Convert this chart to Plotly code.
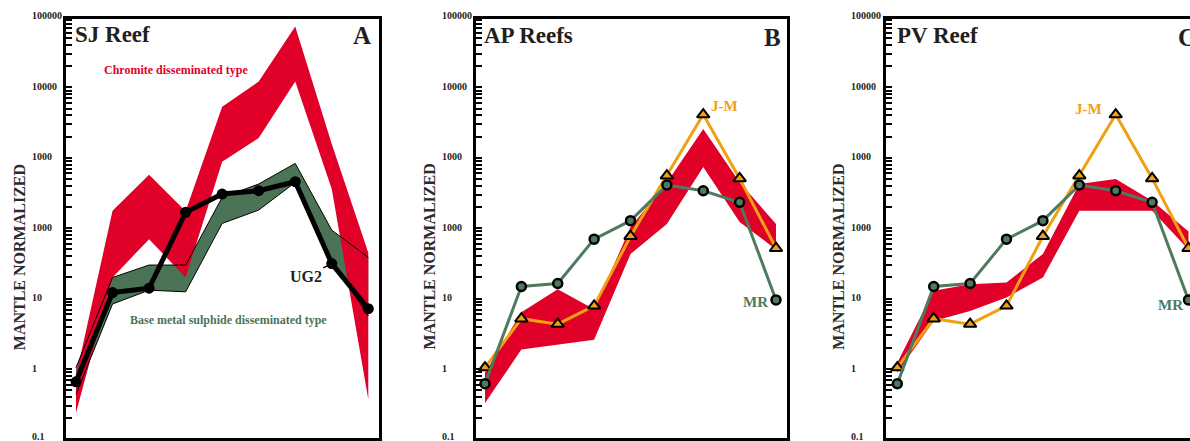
import math
import plotly.graph_objects as go

W, H = 1190, 441

# Element positions along the x axis (nine PGE/chalcophile elements)
positions = [1, 2, 3, 4, 5, 6, 7, 8, 9]

# Panel A - SJ Reef
sj_chromite_upper = [0.8, 177, 577, 175, 5330, 12100, 73300, 1570, 45]
sj_chromite_lower = [0.24, 20, 70, 20, 880, 1915, 12100, 360, 0.37]
sj_bms_upper = [1.05, 20, 30, 30, 274, 425, 833, 94, 38.5]
sj_bms_lower = [0.44, 8.4, 13.2, 12.5, 117, 181, 448, 35, 5.7]
ug2 = [0.66, 12.2, 14.1, 168, 306, 341, 458, 31.5, 7.2]

# Panel B - AP Reefs range
ap_upper = [0.89, 6.4, 13.6, 7.1, 103, 448, 2570, 450, 115]
ap_lower = [0.33, 1.9, 2.25, 2.6, 43, 115, 740, 123, 50]

# Panel C - PV Reef range
pv_upper = [1.23, 12.9, 16, 17, 43, 425, 500, 246, 90]
pv_lower = [0.89, 4.8, 6.7, 10.4, 20, 177, 177, 177, 50]

# Reference profiles shown in panels B and C
jm = [1.05, 5.2, 4.35, 7.9, 77, 557, 4110, 510, 52]
mr = [0.62, 14.9, 16.4, 70, 128, 411, 341, 233, 9.6]

ytick_vals = [0.1, 1, 10, 100, 1000, 10000, 100000]
ytick_text = ["0.1", "1", "10", "1000", "1000", "10000", "100000"]
right_tick_vals = [1, 10, 100, 1000, 10000]

RED = "#e00028"
BMS_GREEN = "#4b7457"
MR_GREEN = "#4f7a5f"
ORANGE = "#f0a010"
TEXT = "#231f20"
SERIF = "Liberation Serif"

# Plot-area geometry in pixels
Y_TOP, Y_BOT = 18.5, 438.0
DECADE_PX = 70.42
Y_AT_01 = 439.5  # pixel row of the 0.1 level


def px_x(p):
    return p / W


def px_y(p):
    return 1 - p / H


def band(upper, lower, color, xa, ya):
    return go.Scatter(
        x=positions + positions[::-1],
        y=upper + lower[::-1],
        mode="lines",
        fill="toself",
        fillcolor=color,
        line=dict(width=0, color=color),
        hoverinfo="skip",
        showlegend=False,
        xaxis=xa,
        yaxis=ya,
    )


def edge(values, xa, ya):
    return go.Scatter(
        x=positions, y=values, mode="lines",
        line=dict(color="black", width=1),
        showlegend=False, hoverinfo="skip", xaxis=xa, yaxis=ya,
    )


def jm_trace(xa, ya):
    return go.Scatter(
        x=positions, y=jm, mode="lines+markers",
        line=dict(color=ORANGE, width=3),
        marker=dict(symbol="triangle-up", size=11, color=ORANGE,
                    line=dict(color="black", width=2)),
        showlegend=False, xaxis=xa, yaxis=ya,
    )


def mr_trace(xa, ya):
    return go.Scatter(
        x=positions, y=mr, mode="lines+markers",
        line=dict(color=MR_GREEN, width=3),
        marker=dict(symbol="circle", size=9, color=MR_GREEN,
                    line=dict(color="black", width=2.5)),
        showlegend=False, xaxis=xa, yaxis=ya,
    )


traces = [
    # Panel A
    band(sj_bms_upper, sj_bms_lower, BMS_GREEN, "x", "y"),
    band(sj_chromite_upper, sj_chromite_lower, RED, "x", "y"),
    edge(sj_bms_upper, "x", "y"),
    edge(sj_bms_lower, "x", "y"),
    go.Scatter(
        x=positions, y=ug2, mode="lines+markers",
        line=dict(color="black", width=5),
        marker=dict(symbol="circle", size=11, color="black"),
        showlegend=False, xaxis="x", yaxis="y",
    ),
    # Panel B
    band(ap_upper, ap_lower, RED, "x2", "y2"),
    jm_trace("x2", "y2"),
    mr_trace("x2", "y2"),
    # Panel C
    band(pv_upper, pv_lower, RED, "x3", "y3"),
    jm_trace("x3", "y3"),
    mr_trace("x3", "y3"),
]

fig = go.Figure(traces)

y_dom = [px_y(Y_BOT), px_y(Y_TOP)]
y_rng = [-1 + (Y_AT_01 - Y_BOT) / DECADE_PX,
         -1 + (Y_AT_01 - Y_TOP) / DECADE_PX]


def xaxis(dom, rng, anchor):
    return dict(
        domain=dom, range=rng, anchor=anchor,
        showline=True, linewidth=3, linecolor="black", mirror=True,
        ticks="", showticklabels=False, showgrid=False, zeroline=False,
    )


def yaxis(anchor, mirror=True):
    # short inward ticks at every 1..9 multiple of each decade
    return dict(
        domain=y_dom, type="log", range=y_rng, anchor=anchor,
        showline=True, linewidth=3, linecolor="black", mirror=mirror,
        dtick="D1", showticklabels=False,
        ticks="inside", ticklen=6, tickwidth=2, tickcolor="black",
        showgrid=False, zeroline=False,
    )


def tick_axis(over, anchor, side, vals, length):
    return dict(
        overlaying=over, side=side, anchor=anchor, type="log",
        range=y_rng, tickmode="array", tickvals=vals,
        ticks="inside", ticklen=length, tickwidth=2, tickcolor="black",
        showticklabels=False, showline=False, showgrid=False, zeroline=False,
    )


fig.update_layout(
    width=W, height=H,
    margin=dict(l=0, r=0, t=0, b=0),
    paper_bgcolor="white", plot_bgcolor="white",
    showlegend=False,
    xaxis=xaxis([px_x(66), px_x(378.5)], [0.726, 9.279], "y"),
    xaxis2=xaxis([px_x(475.5), px_x(787.2)], [0.739, 9.308], "y2"),
    xaxis3=xaxis([px_x(886.2), 1.0], [0.695, 9.041], "y3"),
    yaxis=yaxis("x"),
    yaxis2=yaxis("x2"),
    yaxis3=yaxis("x3", mirror=False),
    # longer decade ticks on the left side
    yaxis4=tick_axis("y", "x", "left", ytick_vals, 10),
    yaxis5=tick_axis("y2", "x2", "left", ytick_vals, 10),
    yaxis6=tick_axis("y3", "x3", "left", ytick_vals, 10),
    # decade ticks on the right side
    yaxis7=tick_axis("y", "x", "right", right_tick_vals, 8),
    yaxis8=tick_axis("y2", "x2", "right", right_tick_vals, 8),
    yaxis9=tick_axis("y3", "x3", "right", right_tick_vals, 3),
)

annotations = []


def text_at(txt, x, y, size, color=TEXT, xanchor="center", angle=0):
    annotations.append(dict(
        text=txt, xref="paper", yref="paper", x=px_x(x), y=px_y(y),
        xanchor=xanchor, yanchor="middle", showarrow=False, textangle=angle,
        font=dict(family=SERIF, size=size, color=color, weight="bold"),
    ))


# Tick labels, left aligned beside each panel
for left in (30, 440, 849):
    for v, t in zip(ytick_vals, ytick_text):
        row = Y_AT_01 - (math.log10(v) + 1) * DECADE_PX
        text_at(t, left, min(row - 1, 436.5), 10, xanchor="left")

# Axis titles
for cx in (19.2, 428.5, 837.8):
    text_at("MANTLE NORMALIZED", cx, 257, 16, color="#2b2b2b", angle=-90)

# Panel titles and letters
text_at("SJ Reef", 73, 35, 23, xanchor="left")
text_at("A", 373, 36, 25, xanchor="right")
text_at("AP Reefs", 482, 36, 23, xanchor="left")
text_at("B", 783, 37, 25, xanchor="right")
text_at("PV Reef", 895, 36, 23, xanchor="left")
text_at("C", 1176, 37, 25, xanchor="left")

# Field labels in panel A
text_at("Chromite disseminated type", 176, 70, 12, color=RED)
text_at("Base metal sulphide disseminated type", 228.3, 320, 12, color=BMS_GREEN)

annotations.append(dict(
    text="UG2", xref="x", yref="y", x=positions[7], y=math.log10(ug2[7]),
    ax=-26, ay=13, axref="pixel", ayref="pixel",
    showarrow=True, arrowhead=0, arrowwidth=1.5, arrowcolor="black", standoff=0,
    font=dict(family=SERIF, size=16, color=TEXT, weight="bold"),
))

# Series labels in panels B and C
text_at("J-M", 725, 106, 15, color=ORANGE)
text_at("MR", 755, 302, 15, color=MR_GREEN)
text_at("J-M", 1088.3, 109.3, 15, color=ORANGE)
text_at("MR", 1170, 305, 15, color=MR_GREEN)

fig.update_layout(annotations=annotations)

fig.write_html("out.html", config={"displayModeBar": False})
